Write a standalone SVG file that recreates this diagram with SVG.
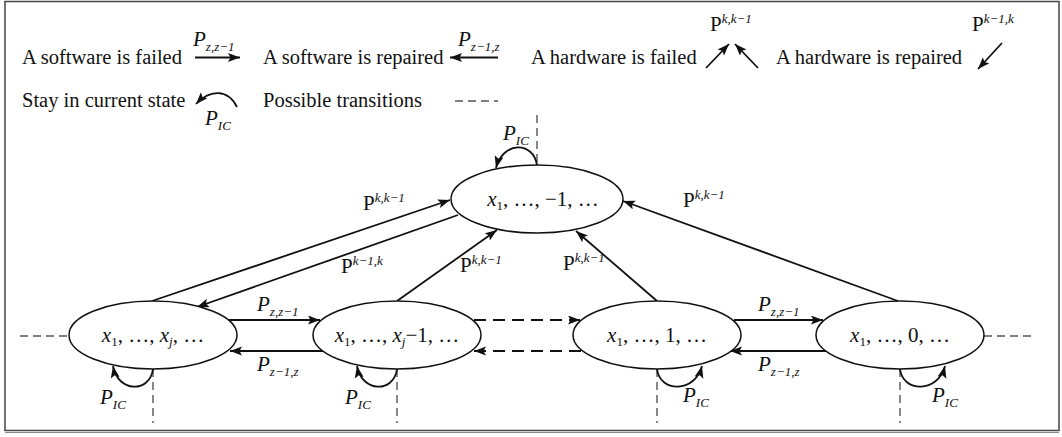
<svg xmlns="http://www.w3.org/2000/svg" width="1062" height="437" viewBox="0 0 1062 437">
<style>
  text { font-family: "Liberation Serif", "Times New Roman", serif; fill: #111; }
  .leg { font-size: 20.5px; }
  .lab { font-size: 21px; }
  .nt { font-size: 21px; }
  .it { font-style: italic; }
  .sub { font-size: 13px; font-style: italic; }
  .sup { font-size: 13px; font-style: italic; }
  .node { fill: #fff; stroke: #111; stroke-width: 1.5; }
  .arr { fill: none; stroke: #111; stroke-width: 1.8; marker-end: url(#ah); }
  .darr { fill: none; stroke: #111; stroke-width: 1.8; stroke-dasharray: 12 7; marker-end: url(#ah); }
  .dash { fill: none; stroke: #555; stroke-width: 1.4; stroke-dasharray: 8 5; }
</style>
<defs>
  <marker id="ah" markerUnits="userSpaceOnUse" markerWidth="13" markerHeight="10" refX="12" refY="4.5" orient="auto">
    <path d="M0,0 L12,4.5 L0,9 L2.5,4.5 z" fill="#111"/>
  </marker>
</defs>
<rect x="0" y="0" width="1062" height="437" fill="#fff"/>
<rect x="5" y="1.5" width="1054" height="429" fill="none" stroke="#444" stroke-width="1.5"/>
<line x1="5" y1="432.5" x2="1059" y2="432.5" stroke="#888" stroke-width="1.2"/>

<g id="legend">
  <text class="leg" x="22" y="64">A software is failed</text>
  <line class="arr" x1="195" y1="57.5" x2="240" y2="57.5"/>
  <text class="lab" x="193" y="46"><tspan class="it">P</tspan><tspan class="sub" dy="5">z,z−1</tspan></text>

  <text class="leg" x="263" y="64">A software is repaired</text>
  <line class="arr" x1="498" y1="57.5" x2="450" y2="57.5"/>
  <text class="lab" x="458" y="46"><tspan class="it">P</tspan><tspan class="sub" dy="5">z−1,z</tspan></text>

  <text class="leg" x="531" y="64">A hardware is failed</text>
  <line class="arr" x1="706" y1="68" x2="729" y2="44"/>
  <line class="arr" x1="758" y1="68" x2="735" y2="44"/>
  <text class="lab" x="710" y="31">P<tspan class="sup" dy="-8">k,k−1</tspan></text>

  <text class="leg" x="776" y="64">A hardware is repaired</text>
  <line class="arr" x1="1002" y1="43" x2="978" y2="69"/>
  <text class="lab" x="972" y="31">P<tspan class="sup" dy="-8">k−1,k</tspan></text>

  <text class="leg" x="22" y="107">Stay in current state</text>
  <path class="arr" d="M237,107 C228,89 210,89 196,104"/>
  <text class="lab" x="205" y="125"><tspan class="it">P</tspan><tspan class="sub" dy="5">IC</tspan></text>

  <text class="leg" x="263" y="107">Possible transitions</text>
  <line class="dash" x1="455" y1="101" x2="498" y2="101" stroke="#333" stroke-dasharray="6 5"/>
</g>

<g id="connectors">
  <!-- self loops and possible-transition stubs -->
  <line class="dash" x1="537" y1="115" x2="537" y2="165"/>
  <path class="arr" d="M537,165 C533,141 503,141 496,168"/>
  <text class="lab" x="503" y="140"><tspan class="it">P</tspan><tspan class="sub" dy="5">IC</tspan></text>

  <line class="dash" x1="153" y1="369" x2="153" y2="423"/>
  <path class="arr" d="M153,369 C150,393 118,393 113,366"/>
  <text class="lab" x="100" y="404"><tspan class="it">P</tspan><tspan class="sub" dy="5">IC</tspan></text>

  <line class="dash" x1="397" y1="369" x2="397" y2="423"/>
  <path class="arr" d="M397,369 C394,393 362,393 357,366"/>
  <text class="lab" x="345" y="404"><tspan class="it">P</tspan><tspan class="sub" dy="5">IC</tspan></text>

  <line class="dash" x1="657" y1="369" x2="657" y2="423"/>
  <path class="arr" d="M657,369 C660,393 695,393 702,366"/>
  <text class="lab" x="683" y="402"><tspan class="it">P</tspan><tspan class="sub" dy="5">IC</tspan></text>

  <line class="dash" x1="900" y1="369" x2="900" y2="423"/>
  <path class="arr" d="M900,369 C903,393 938,393 945,366"/>
  <text class="lab" x="932" y="402"><tspan class="it">P</tspan><tspan class="sub" dy="5">IC</tspan></text>

  <line class="dash" x1="20" y1="336" x2="69" y2="336"/>
  <line class="dash" x1="984" y1="336" x2="1034" y2="336"/>

  <!-- software transitions -->
  <line class="arr" x1="229" y1="320" x2="320" y2="320"/>
  <line class="arr" x1="324" y1="351" x2="230" y2="351"/>
  <text class="lab" x="257" y="311"><tspan class="it">P</tspan><tspan class="sub" dy="5">z,z−1</tspan></text>
  <text class="lab" x="257" y="371"><tspan class="it">P</tspan><tspan class="sub" dy="5">z−1,z</tspan></text>

  <line class="darr" x1="474" y1="320" x2="580" y2="320"/>
  <line class="darr" x1="581" y1="351" x2="474" y2="351"/>

  <line class="arr" x1="734" y1="320" x2="823" y2="320"/>
  <line class="arr" x1="827" y1="351" x2="730" y2="351"/>
  <text class="lab" x="758" y="311"><tspan class="it">P</tspan><tspan class="sub" dy="5">z,z−1</tspan></text>
  <text class="lab" x="758" y="371"><tspan class="it">P</tspan><tspan class="sub" dy="5">z−1,z</tspan></text>

  <!-- hardware transitions -->
  <line class="arr" x1="152" y1="301" x2="450" y2="200"/>
  <text class="lab" x="363" y="210">P<tspan class="sup" dy="-8">k,k−1</tspan></text>
  <line class="arr" x1="458" y1="215" x2="197" y2="307"/>
  <text class="lab" x="341" y="273">P<tspan class="sup" dy="-8">k−1,k</tspan></text>

  <line class="arr" x1="397" y1="301" x2="497" y2="230"/>
  <text class="lab" x="460" y="272">P<tspan class="sup" dy="-8">k,k−1</tspan></text>

  <line class="arr" x1="657" y1="301" x2="576" y2="231"/>
  <text class="lab" x="563" y="270">P<tspan class="sup" dy="-8">k,k−1</tspan></text>

  <line class="arr" x1="898" y1="301" x2="623" y2="201"/>
  <text class="lab" x="683" y="207">P<tspan class="sup" dy="-8">k,k−1</tspan></text>
</g>

<g id="node-top">
  <ellipse class="node" cx="537" cy="199" rx="86" ry="34"/>
  <text class="nt" x="543" y="206" text-anchor="middle"><tspan class="it">x</tspan><tspan font-size="13" dy="4">1</tspan><tspan dy="-4">, …, −1, …</tspan></text>
</g>
<g id="node-xj">
  <ellipse class="node" cx="153" cy="335" rx="84" ry="34"/>
  <text class="nt" x="153" y="342" text-anchor="middle"><tspan class="it">x</tspan><tspan font-size="13" dy="4">1</tspan><tspan dy="-4">, …, </tspan><tspan class="it">x</tspan><tspan font-size="13" font-style="italic" dy="4">j</tspan><tspan dy="-4">, …</tspan></text>
</g>
<g id="node-xj-1">
  <ellipse class="node" cx="397" cy="335" rx="84" ry="34"/>
  <text class="nt" x="397" y="342" text-anchor="middle"><tspan class="it">x</tspan><tspan font-size="13" dy="4">1</tspan><tspan dy="-4">, …, </tspan><tspan class="it">x</tspan><tspan font-size="13" font-style="italic" dy="4">j</tspan><tspan dy="-4">−1, …</tspan></text>
</g>
<g id="node-1">
  <ellipse class="node" cx="657" cy="335" rx="84" ry="34"/>
  <text class="nt" x="657" y="342" text-anchor="middle"><tspan class="it">x</tspan><tspan font-size="13" dy="4">1</tspan><tspan dy="-4">, …, 1, …</tspan></text>
</g>
<g id="node-0">
  <ellipse class="node" cx="900" cy="335" rx="84" ry="34"/>
  <text class="nt" x="900" y="342" text-anchor="middle"><tspan class="it">x</tspan><tspan font-size="13" dy="4">1</tspan><tspan dy="-4">, …, 0, …</tspan></text>
</g>
</svg>
